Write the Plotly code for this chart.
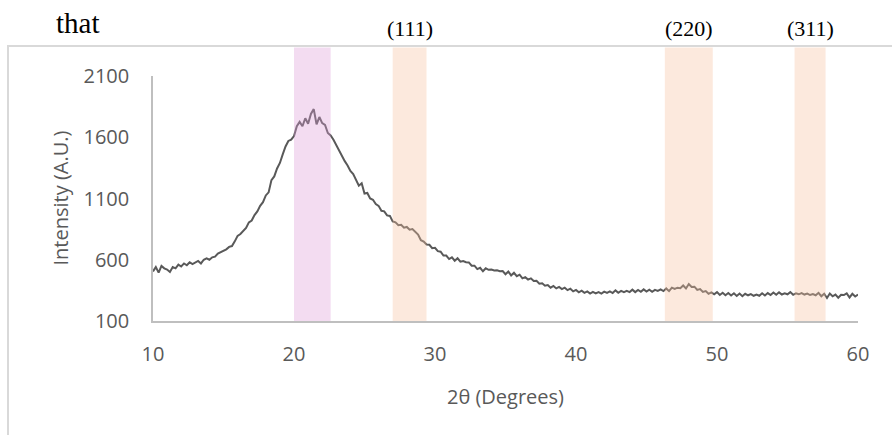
import numpy as np
import plotly.graph_objects as go

# 2-theta from 10 to 60 deg, 0.2 deg steps; intensity values
intensity = [
    505, 540, 495, 550, 530, 520, 500, 540, 530, 560,
    545, 570, 555, 580, 565, 575, 590, 570, 600, 612,
    600, 620, 625, 650, 660, 675, 685, 705, 712, 750,
    795, 810, 840, 860, 905, 920, 965, 995, 1040, 1070,
    1125, 1150, 1250, 1280, 1345, 1390, 1460, 1525, 1570, 1580,
    1610, 1690, 1725, 1690, 1755, 1710, 1790, 1830, 1705, 1765,
    1715, 1700, 1635, 1615, 1580, 1535, 1485, 1440, 1405, 1370,
    1325, 1300, 1245, 1205, 1225, 1140, 1145, 1100, 1090, 1055,
    1040, 1000, 995, 962, 958, 912, 905, 882, 886, 862,
    868, 846, 850, 826, 806, 760, 748, 724, 722, 694,
    698, 670, 666, 634, 634, 606, 620, 592, 612, 584,
    590, 580, 578, 552, 552, 524, 534, 506, 530, 518,
    520, 512, 514, 506, 508, 482, 504, 472, 494, 466,
    478, 448, 458, 438, 448, 426, 428, 404, 408, 388,
    394, 372, 386, 366, 378, 360, 372, 352, 364, 342,
    354, 334, 348, 330, 342, 324, 338, 326, 336, 324,
    340, 330, 342, 328, 350, 330, 346, 336, 346, 336,
    356, 336, 354, 338, 358, 340, 356, 338, 354, 346,
    358, 344, 366, 344, 372, 362, 372, 368, 390, 366,
    402, 378, 380, 354, 360, 338, 344, 322, 334, 318,
    336, 312, 330, 310, 328, 308, 326, 304, 324, 302,
    322, 310, 320, 306, 316, 306, 326, 308, 328, 312,
    332, 314, 334, 316, 326, 318, 336, 314, 326, 318,
    328, 316, 324, 312, 320, 310, 330, 302, 322, 288,
    324, 302, 316, 290, 314, 312, 326, 292, 322, 300,
    316,
]
two_theta = np.linspace(10, 60, len(intensity))

# highlighted bands (2-theta ranges) and labels
band_starts = [20.0, 27.0, 46.3, 55.5]
band_ends = [22.6, 29.4, 49.7, 57.7]
band_colors = ["rgb(221,155,215)", "rgb(246,192,158)", "rgb(246,192,158)", "rgb(246,192,158)"]
band_labels = ["", "(111)", "(220)", "(311)"]

x_ticks = [10, 20, 30, 40, 50, 60]
y_ticks = [100, 600, 1100, 1600, 2100]

W, H = 892, 435
L, R, T, B = 153, 34, 76, 114
pw, ph = W - L - R, H - T - B


def px2paper_x(px):
    return (px - L) / pw


def px2paper_y(py):
    return (H - B - py) / ph


fig = go.Figure()
fig.add_trace(go.Scatter(
    x=two_theta, y=intensity, mode="lines",
    line=dict(color="#595959", width=2), hoverinfo="skip", showlegend=False,
))

shapes = []
# document frame (light grey) around chart
shapes.append(dict(type="line", xref="paper", yref="paper",
                   x0=px2paper_x(8), x1=px2paper_x(8), y0=px2paper_y(46), y1=px2paper_y(440),
                   line=dict(color="#D9D9D9", width=2)))
shapes.append(dict(type="line", xref="paper", yref="paper",
                   x0=px2paper_x(7), x1=px2paper_x(900), y0=px2paper_y(46), y1=px2paper_y(46),
                   line=dict(color="#D9D9D9", width=2)))
for s, e, c in zip(band_starts, band_ends, band_colors):
    shapes.append(dict(type="rect", xref="x", yref="paper", x0=s, x1=e,
                       y0=0, y1=px2paper_y(47.5), fillcolor=c, opacity=0.35,
                       line=dict(width=0), layer="above"))

annotations = []
annotations.append(dict(text="that", xref="paper", yref="paper",
                        x=px2paper_x(78), y=px2paper_y(23), xanchor="center", yanchor="middle",
                        showarrow=False, font=dict(family="Liberation Serif", size=29, color="#000000")))
for s, e, lab in zip(band_starts, band_ends, band_labels):
    if lab:
        annotations.append(dict(text=lab, xref="x", yref="paper",
                                x=(s + e) / 2, y=px2paper_y(28), xanchor="center", yanchor="middle",
                                showarrow=False,
                                font=dict(family="Liberation Serif", size=22, color="#000000")))
annotations.append(dict(text="2θ (Degrees)", xref="paper", yref="paper",
                        x=0.5, y=px2paper_y(396), xanchor="center", yanchor="middle",
                        showarrow=False, font=dict(family="Open Sans", size=20, color="#595959")))
annotations.append(dict(text="Intensity (A.U.)", xref="paper", yref="paper",
                        x=px2paper_x(60), y=0.5, xanchor="center", yanchor="middle", textangle=-90,
                        showarrow=False, font=dict(family="Open Sans", size=20, color="#595959")))

fig.update_layout(
    width=W, height=H,
    margin=dict(l=L, r=R, t=T, b=B, pad=0),
    paper_bgcolor="white", plot_bgcolor="white",
    shapes=shapes, annotations=annotations,
    font=dict(family="Open Sans", size=20, color="#595959"),
)
fig.update_xaxes(range=[10, 60], tickvals=x_ticks, showgrid=False, zeroline=False,
                 showline=True, linecolor="#BFBFBF", linewidth=2, ticks="",
                 ticklabelstandoff=14, tickfont=dict(family="Open Sans", size=20, color="#595959"))
fig.update_yaxes(range=[100, 2100], tickvals=y_ticks, showgrid=False, zeroline=False,
                 showline=True, linecolor="#BFBFBF", linewidth=1.5, ticks="",
                 ticklabelstandoff=18, tickfont=dict(family="Open Sans", size=20, color="#595959"))

fig.write_html("out.html")
